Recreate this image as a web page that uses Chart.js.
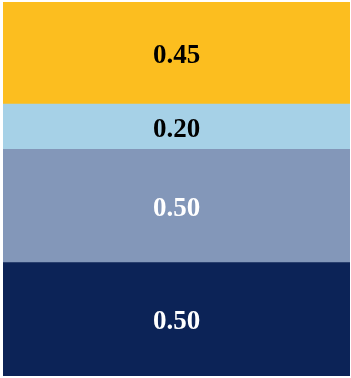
<!DOCTYPE html>
<html>
<head>
<meta charset="utf-8">
<script src="https://cdn.jsdelivr.net/npm/chart.js@4"></script>
<style>
  html, body { margin: 0; padding: 0; background: #fff; }
  #wrap { width: 351px; height: 378px; position: relative; }
</style>
</head>
<body>
<div id="wrap"><canvas id="stack"></canvas></div>
<script>
  // stack segments, bottom to top
  const categories = [''];
  const segmentNames = ['D', 'C', 'B', 'A'];
  const segmentValues = [0.50, 0.50, 0.20, 0.45];
  const segmentColors = ['#0c2357', '#8397b9', '#a6d1e7', '#fcbe1f'];
  const labelColors = ['#ffffff', '#ffffff', '#000000', '#000000'];

  const total = segmentValues.reduce((a, b) => a + b, 0);

  // writes each segment's value in the middle of its block
  const segmentLabels = {
    id: 'segmentLabels',
    afterDatasetsDraw(chart) {
      const ctx = chart.ctx;
      ctx.save();
      ctx.font = 'bold 27px "Liberation Serif", "Times New Roman", serif';
      ctx.textAlign = 'center';
      ctx.textBaseline = 'alphabetic';
      chart.data.datasets.forEach((ds, i) => {
        const bar = chart.getDatasetMeta(i).data[0];
        const { x, y, base } = bar.getProps(['x', 'y', 'base'], true);
        ctx.fillStyle = labelColors[i];
        // baseline sits half a digit height below the block's middle
        ctx.fillText(ds.data[0].toFixed(2), x, (y + base) / 2 + 10);
      });
      ctx.restore();
    }
  };

  new Chart(document.getElementById('stack'), {
    type: 'bar',
    data: {
      labels: categories,
      datasets: segmentNames.map((name, i) => ({
        label: name,
        data: [segmentValues[i]],
        backgroundColor: segmentColors[i],
        borderWidth: 0,
        categoryPercentage: 1,
        barPercentage: 1
      }))
    },
    options: {
      responsive: true,
      maintainAspectRatio: false,
      animation: false,
      layout: { padding: { left: 3, right: 1, top: 2, bottom: 2 } },
      plugins: { legend: { display: false }, tooltip: { enabled: false } },
      scales: {
        x: { stacked: true, display: false },
        y: { stacked: true, display: false, min: 0, max: total }
      }
    },
    plugins: [segmentLabels]
  });
</script>
</body>
</html>
